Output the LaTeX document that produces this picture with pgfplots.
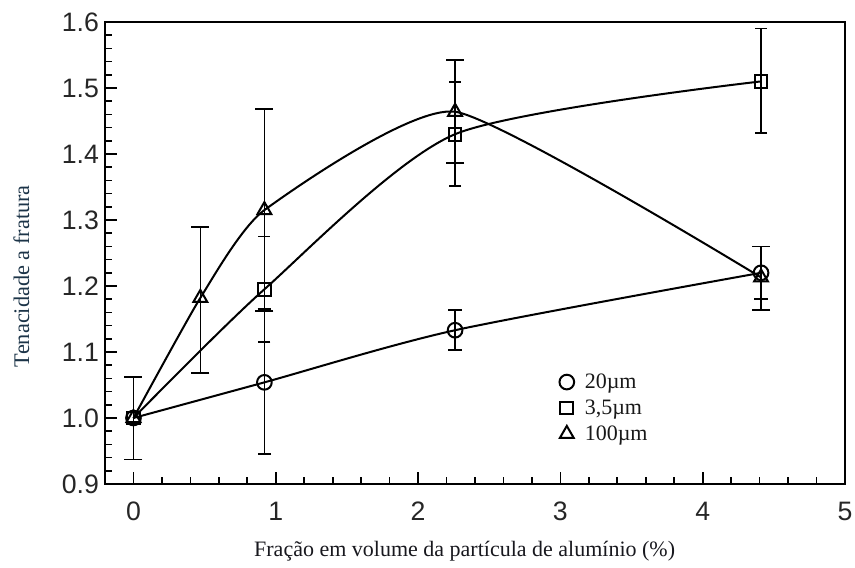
\documentclass[border=0pt]{standalone}
\usepackage{fontspec}
\setmainfont{Liberation Serif}
\newfontfamily\arialfont{Liberation Sans}
\usepackage{pgfplots}
\pgfplotsset{compat=1.18}
\usepackage{pgfplotstable}

\definecolor{ylabcol}{RGB}{28,52,72}
\definecolor{xlabcol}{RGB}{24,24,30}

% particle size 20 um
\pgfplotstableread{
x     y      ep     em
0     1.000  0.062  0.063
0.92  1.054  0.111  0.109
2.26  1.133  0.031  0.030
4.41  1.220  0.040  0.040
}\dataA
% particle size 3,5 um
\pgfplotstableread{
x     y      ep     em
0     1.000  0.062  0.063
0.92  1.195  0.080  0.080
2.26  1.430  0.079  0.078
4.41  1.510  0.080  0.078
}\dataB
% particle size 100 um
\pgfplotstableread{
x     y      ep     em
0     1.000  0.062  0.063
0.47  1.182  0.107  0.114
0.92  1.315  0.153  0.153
2.26  1.464  0.078  0.078
4.41  1.213  0.047  0.049
}\dataC

\begin{document}
\begin{tikzpicture}
\useasboundingbox (-78.75pt,-62.25pt) rectangle (562.5pt,363pt);
\begin{axis}[
  at={(0,0)}, anchor=south west,
  scale only axis, width=555pt, height=346.5pt,
  xmin=-0.2, xmax=5, ymin=0.9, ymax=1.6,
  xtick={0,1,2,3,4,5},
  ytick={0.9,1.0,1.1,1.2,1.3,1.4,1.5,1.6},
  minor x tick num=4, minor y tick num=4,
  tick align=inside, tick pos=left,
  major tick length=9pt, minor tick length=5pt,
  every tick/.style={black, line width=1.3pt},
  axis line style={line width=1.8pt},
  /pgf/number format/assume math mode=true,
  tick label style={font=\arialfont\fontsize{20}{20}\selectfont, text=black!85},
  yticklabel={\pgfmathprintnumber[fixed,fixed zerofill,precision=1]{\tick}},
  xticklabel={\pgfmathprintnumber{\tick}},
  yticklabel style={xshift=-1pt},
  xticklabel style={yshift=-10pt},
  xlabel={Fração em volume da partícula de alumínio (\%)},
  ylabel={Tenacidade a fratura},
  xlabel style={at={(axis description cs:0.486,-0.145)}, anchor=center,
    font=\fontsize{16.5}{18}\selectfont, text=xlabcol},
  ylabel style={at={(axis description cs:-0.113,0.45)}, anchor=center,
    font=\fontsize{16.75}{18}\selectfont, text=ylabcol},
  legend image code/.code={\draw[#1] plot[only marks] coordinates {(0.2cm,0cm)};},
  legend cell align=left,
  legend style={at={(axis description cs:0.612,0.245)}, anchor=north west,
    draw=none, fill=white, inner sep=1pt, row sep=5pt, column sep=3pt,
    font=\fontsize{16.5}{18}\selectfont, text=black!90,
    nodes={inner xsep=5pt, inner ysep=1pt}},
]
\addplot[black, line width=1.5pt, smooth, tension=0.45, mark=o, mark size=5.5pt,
  error bars/.cd, y dir=both, y explicit,
  error bar style={line width=1.1pt},
  error mark options={rotate=90, mark size=5pt, line width=1.3pt}]
  table[x=x, y=y, y error plus=ep, y error minus=em] {\dataA};
\addlegendentry{20µm}
\addplot[black, line width=1.5pt, smooth, tension=0.42, mark=square, mark size=4.8pt,
  error bars/.cd, y dir=both, y explicit,
  error bar style={line width=1.1pt},
  error mark options={rotate=90, mark size=4.5pt, line width=1.3pt}]
  table[x=x, y=y, y error plus=ep, y error minus=em] {\dataB};
\addlegendentry{3,5µm}
\addplot[black, line width=1.5pt, smooth, tension=0.32, mark=triangle, mark size=6pt,
  error bars/.cd, y dir=both, y explicit,
  error bar style={line width=1.1pt},
  error mark options={rotate=90, mark size=6.75pt, line width=1.3pt}]
  table[x=x, y=y, y error plus=ep, y error minus=em] {\dataC};
\addlegendentry{100µm}
\end{axis}
\end{tikzpicture}
\end{document}
